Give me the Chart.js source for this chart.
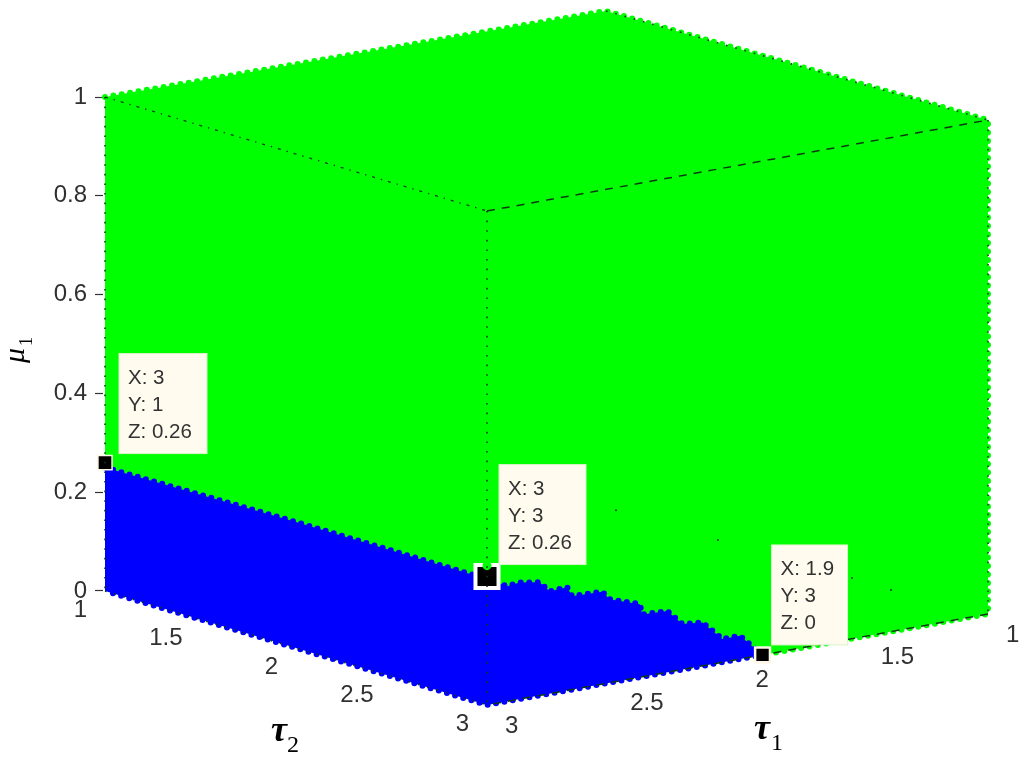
<!DOCTYPE html>
<html>
<head>
<meta charset="utf-8">
<style>html,body{margin:0;padding:0;background:#fff}canvas{display:block}</style>
<script src="https://cdn.jsdelivr.net/npm/chart.js@4/dist/chart.umd.min.js"></script>
</head>
<body>
<canvas id="c" width="1024" height="763"></canvas>
<script>
// ---- data (tau1 = X, tau2 = Y, mu1 = Z) ----
const muTicks = [0, 0.2, 0.4, 0.6, 0.8, 1];
const tau1Ticks = [1, 1.5, 2, 2.5, 3];
const tau2Ticks = [1, 1.5, 2, 2.5, 3];

// stability boundary on the tau2 = 3 face
const boundaryTau1 = [2.92, 2.87, 2.79, 2.75, 2.68, 2.66, 2.54, 2.51, 2.39, 2.38, 2.28, 2.22, 2.14, 2.06, 1.99, 1.9];
const boundaryMu   = [0.233, 0.236, 0.229, 0.207, 0.209, 0.189, 0.187, 0.169, 0.148, 0.126, 0.124, 0.092, 0.088, 0.047, 0.047, 0];

// blue region outline
const blueTau1 = [3, 3, 3].concat(boundaryTau1, [3, 3]);
const blueTau2 = [1, 2, 3].concat(boundaryTau1.map(() => 3), [3, 1]);
const blueMu   = [0.25, 0.255, 0.255].concat(boundaryMu, [0, 0]);

// green region outline
const greenTau1 = [3, 1, 1, 1, 1.9, 3, 3];
const greenTau2 = [1, 1, 3, 3, 3, 3, 1];
const greenMu   = [1, 1, 1, 0, 0, 0.25, 0.25];

// annotated data tips
const tipTau1 = [3, 3, 1.9];
const tipTau2 = [1, 3, 3];
const tipMu   = [0.26, 0.26, 0];
const tipLabels = [["X: 3", "Y: 1", "Z: 0.26"], ["X: 3", "Y: 3", "Z: 0.26"], ["X: 1.9", "Y: 3", "Z: 0"]];

// isolated dark specks on the tau2 = 3 face
const speckTau1 = [2.485, 2.078, 1.543, 1.387];
const speckMu   = [0.347, 0.249, 0.123, 0.084];

// green sample overlapping the middle tip marker
const notchTau1 = [3], notchTau2 = [3], notchMu = [0.282];

// cube edges: [tau1, tau2, mu] ends
const dottedEdges = [[[3,1,1],[3,1,0]], [[3,3,1],[3,3,0]], [[1,3,1],[1,3,0]], [[1,1,1],[1,3,1]], [[3,1,0],[3,3,0]]];
const dashDotEdges = [[[3,1,1],[3,3,1]]];
const dashedEdges = [[[3,3,1],[1,3,1]], [[1,3,0],[3,3,0]]];

// ---- axonometric view of the cube ----
const U_TAU1 = 1.3115, V_TAU1 = 0.0921, V_TAU2 = 0.11538, V_TWIST = 0.0025;
const proj = (t1, t2, m) => ({
  x: (t2 - 1) + (3 - t1) * U_TAU1,
  y: m - (t2 - 1) * V_TAU2 + (3 - t1) * V_TAU1 - (3 - t1) * (3 - t2) * V_TWIST
});
const path = (a, b, c) => a.map((v, i) => proj(v, b[i], c[i]));
const edgeData = e => [proj(...e[0]), proj(...e[1])];

const GREEN = '#00FF00', BLUE = '#0000FF', EDGE = '#0b3a12';
const region = (pts, col, order) => ({
  data: pts, showLine: true, pointRadius: 0, order, clip: false,
  fill: 'shape', backgroundColor: col, borderColor: col,
  borderWidth: 6, borderCapStyle: 'round', borderDash: [0, 8.5], tension: 0
});
const edgeSet = (e, dash, width, order, col) => ({
  data: edgeData(e), showLine: true, pointRadius: 0, order, clip: false,
  borderColor: col || EDGE, borderWidth: width, borderDash: dash, fill: false
});

const datasets = [
  ...dottedEdges.map(e => edgeSet(e, [1.6, 8], 1.6, 2)),
  ...dashDotEdges.map(e => edgeSet(e, [3, 6, 1.4, 6], 1.3, 6)),
  ...dashedEdges.map(e => edgeSet(e, [8, 7], 1.5, 6)),
  { // green sample above the middle marker
    data: path(notchTau1, notchTau2, notchMu), showLine: false, order: 3, clip: false,
    pointRadius: 4.5, backgroundColor: GREEN, borderWidth: 0
  },
  { // data-tip anchors
    data: path(tipTau1, tipTau2, tipMu), showLine: false, order: 4, clip: false,
    pointStyle: 'rect', pointRadius: [10, 16.3, 10.5],
    backgroundColor: '#000', borderColor: ['#fff7e6', '#fff', '#fff7e6'], borderWidth: [1.5, 4, 2.5]
  },
  { // specks
    data: path(speckTau1, speckTau1.map(() => 3), speckMu), showLine: false, order: 5, clip: false,
    pointRadius: 1, backgroundColor: EDGE, borderWidth: 0
  },
  region(path(blueTau1, blueTau2, blueMu), BLUE, 8),
  region(path(greenTau1, greenTau2, greenMu), GREEN, 10)
];

// ---- text that sits on the projected axes, and the data tips ----
const cubeText = {
  id: 'cubeText',
  afterDatasetsDraw(chart) {
    const { ctx, scales: { x, y } } = chart;
    const at = p => ({ x: x.getPixelForValue(p.x), y: y.getPixelForValue(p.y) });
    ctx.save();
    ctx.textBaseline = 'middle';
    ctx.fillStyle = '#303030';
    ctx.font = '24px "Liberation Sans"';
    ctx.textAlign = 'right';
    tau2Ticks.forEach(t => { const p = at(proj(3, t, 0)); ctx.fillText(String(t), p.x - 18, p.y + 19); });
    ctx.textAlign = 'left';
    tau1Ticks.forEach(t => { const p = at(proj(t, 3, 0)); ctx.fillText(String(t), p.x + 18, p.y + 21); });

    const offX = [14, 12, 9], offY = [-109, -112, -110], boxW = [88, 87, 76];
    tipLabels.forEach((lines, i) => {
      const p = at(proj(tipTau1[i], tipTau2[i], tipMu[i]));
      const bx = p.x + offX[i], by = p.y + offY[i];
      ctx.fillStyle = '#FFFBEF';
      ctx.strokeStyle = '#d8f5c8';
      ctx.lineWidth = 1;
      ctx.fillRect(bx, by, boxW[i], 100);
      ctx.strokeRect(bx, by, boxW[i], 100);
      ctx.fillStyle = '#333';
      ctx.font = '20.5px "Liberation Sans"';
      ctx.textAlign = 'left';
      ctx.textBaseline = 'alphabetic';
      lines.forEach((s, k) => ctx.fillText(s, bx + 9, by + 30 + k * 27));
    });

    ctx.fillStyle = '#000';
    ctx.textBaseline = 'alphabetic';
    ctx.textAlign = 'left';
    ctx.font = 'italic bold 36px "Liberation Serif"';
    ctx.fillText('\u03C4', 271, 741);
    ctx.fillText('\u03C4', 754, 739);
    ctx.font = '24px "Liberation Serif"';
    ctx.fillText('2', 287, 752);
    ctx.fillText('1', 771, 750);
    ctx.save();
    ctx.translate(24, 363);
    ctx.rotate(-Math.PI / 2);
    ctx.font = 'italic 30px "Liberation Serif"';
    ctx.fillText('\u03BC', 0, 0);
    ctx.font = '18px "Liberation Serif"';
    ctx.fillText('1', 17, 8);
    ctx.restore();
    ctx.restore();
  }
};

new Chart(document.getElementById('c'), {
  type: 'scatter',
  data: { datasets },
  plugins: [cubeText],
  options: {
    responsive: false,
    animation: false,
    layout: { padding: 0, autoPadding: false },
    plugins: { legend: { display: false }, title: { display: false }, tooltip: { enabled: false } },
    events: [],
    scales: {
      x: { type: 'linear', display: false, min: -2 / 191, max: 919 / 191 },
      y: {
        type: 'linear', position: 'left', min: -0.3482, max: 1.1964,
        afterBuildTicks(s) { s.ticks = muTicks.map(value => ({ value })); },
        afterFit(s) { s.width = 103; s.paddingTop = 0; s.paddingBottom = 0; },
        border: { display: false },
        grid: { drawOnChartArea: false, drawTicks: true, tickLength: 8, color: '#333', tickWidth: 1.2 },
        ticks: { color: '#303030', padding: 8, font: { family: '"Liberation Sans"', size: 24 },
                 callback: v => String(+v.toFixed(1)) }
      }
    }
  }
});
</script>
</body>
</html>
